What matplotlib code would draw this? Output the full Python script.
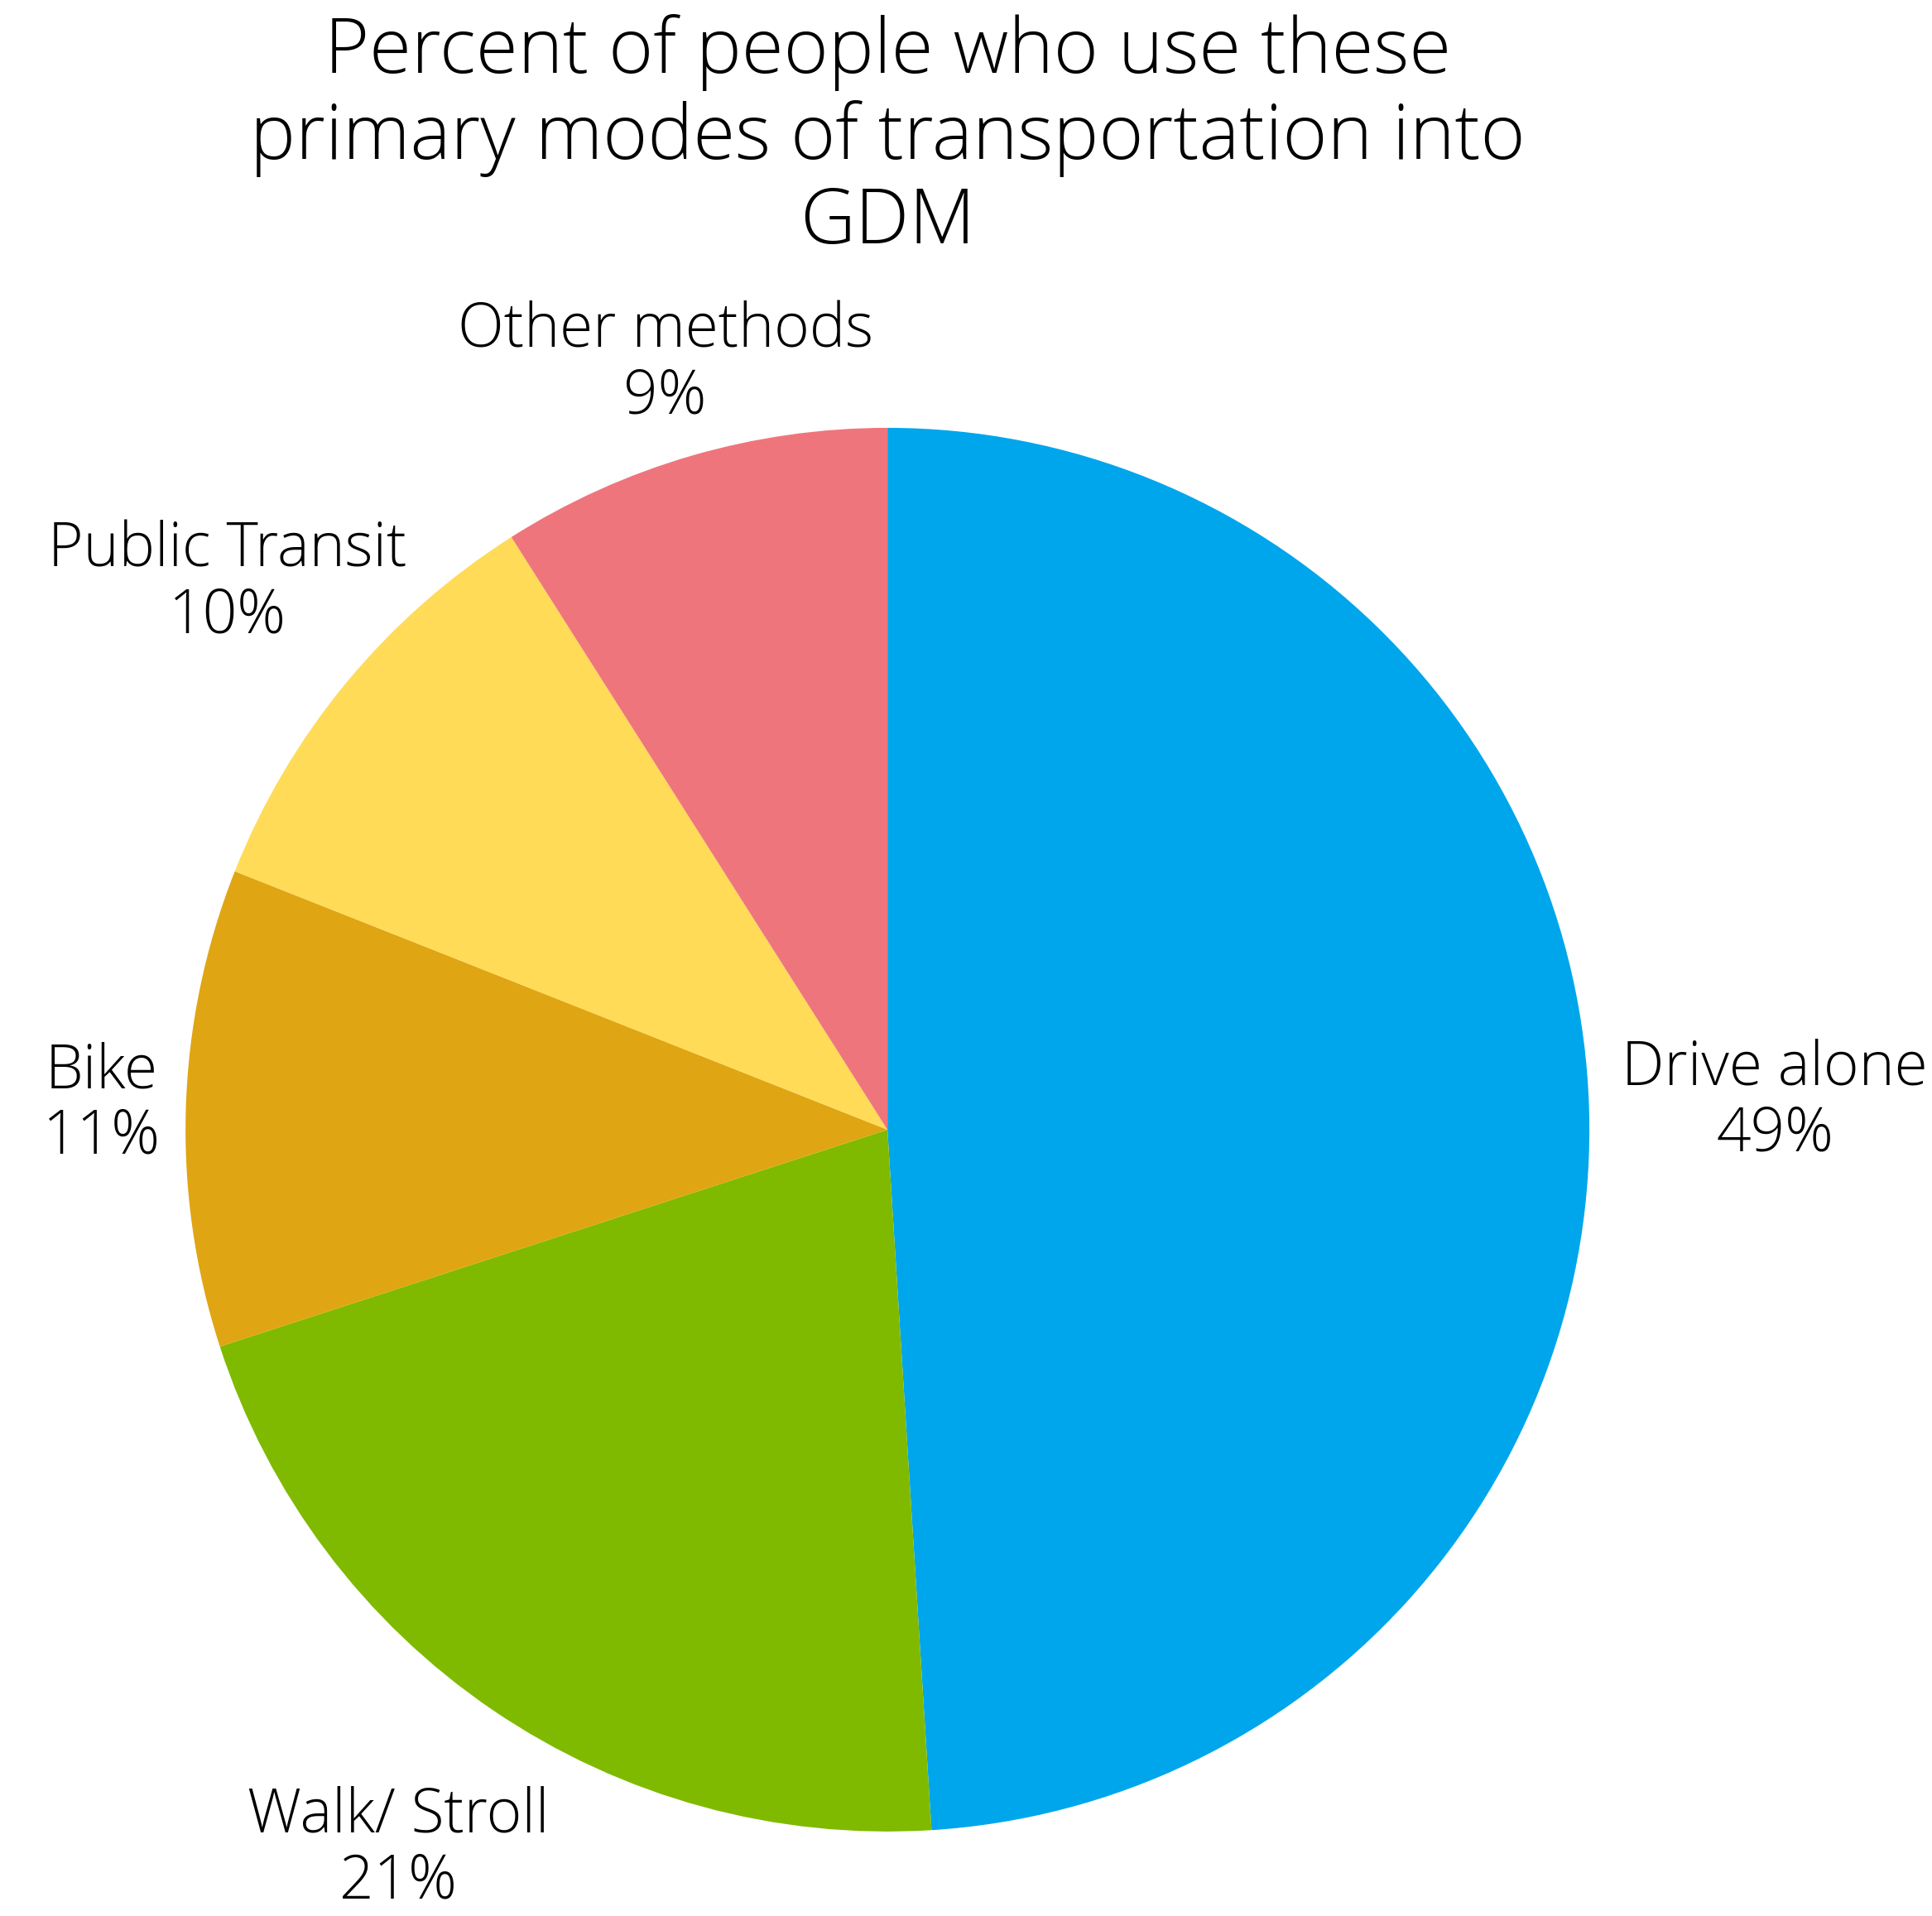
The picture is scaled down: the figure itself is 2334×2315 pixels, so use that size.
import matplotlib
matplotlib.use("Agg")
import matplotlib.pyplot as plt
import numpy as np

# data
modes = ["Drive alone", "Walk/ Stroll", "Bike", "Public Transit", "Other methods"]
shares = [49, 21, 11, 10, 9]
colors = ["#00A6EB", "#7FBA00", "#E0A512", "#FFDB58", "#EF757C"]
# distance of each label from the centre, in pie radii (Excel best-fit look)
label_dist = [1.265, 1.24, 1.12, 1.22, 1.135]

plt.rcParams["font.family"] = ["Open Sans", "DejaVu Sans"]

fig = plt.figure(figsize=(23.34, 23.15), dpi=100)
fig.patch.set_facecolor("white")

# pie centre at about (1072, 1365) px, radius about 848 px
ax = fig.add_axes([0.096, 0.0441, 0.7267, 0.7326])
wedges, _ = ax.pie(shares, colors=colors, startangle=90, counterclock=False,
                   wedgeprops=dict(linewidth=0))
ax.set_xlim(-1, 1)
ax.set_ylim(-1, 1)
ax.set_aspect("equal")
ax.axis("off")

for w, name, pct, d in zip(wedges, modes, shares, label_dist):
    mid = np.deg2rad((w.theta1 + w.theta2) / 2)
    ax.text(d * np.cos(mid), d * np.sin(mid), "%s\n%d%%" % (name, pct),
            ha="center", va="center", fontsize=52.5, linespacing=1.1,
            clip_on=False, color="black", fontweight="light")

fig.text(0.4595, 0.928, "Percent of people who use these\nprimary modes of transportation into\nGDM",
         ha="center", va="center", fontsize=66.5, linespacing=1.15, fontweight="light")

fig.savefig("out.png", dpi=100, facecolor="white")
